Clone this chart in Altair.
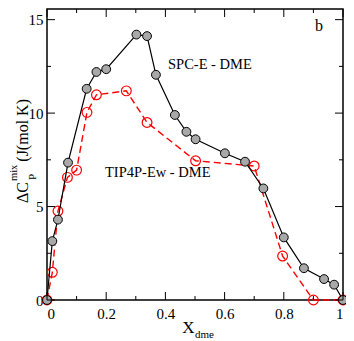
import altair as alt
import pandas as pd

# SPC-E - DME series
spc_x = [0, 0.018, 0.037, 0.071, 0.134, 0.167, 0.2, 0.302, 0.338, 0.368, 0.432, 0.471, 0.502, 0.601, 0.669, 0.731, 0.8, 0.868, 0.936, 0.97, 1.0]
spc_y = [0, 3.15, 4.3, 7.35, 11.3, 12.2, 12.35, 14.2, 14.12, 12.05, 9.9, 9.0, 8.6, 7.85, 7.4, 5.97, 3.35, 1.7, 1.12, 0.82, 0]

# TIP4P-Ew - DME series
tip_x = [0, 0.018, 0.037, 0.069, 0.1, 0.135, 0.167, 0.268, 0.338, 0.502, 0.70, 0.796, 0.9, 1.0]
tip_y = [0, 1.48, 4.76, 6.56, 6.95, 10.04, 10.98, 11.19, 9.5, 7.45, 7.17, 2.35, 0, 0]

x_major = [0, 0.2, 0.4, 0.6, 0.8, 1.0]
x_minor = [0.1, 0.3, 0.5, 0.7, 0.9]
y_major = [0, 5, 10, 15]
y_minor = [2.5, 7.5, 12.5]

W, H = 296, 291
FONT = "Liberation Serif, Times New Roman, serif"

xs = alt.Scale(domain=[0, 1], nice=False, zero=False)
ys = alt.Scale(domain=[0, 15.57], nice=False, zero=False)
xaxis = alt.Axis(values=x_major, ticks=False, domain=False, grid=False, format="~g",
                 labelFont=FONT, labelFontSize=15, labelColor="black", labelPadding=6,
                 title=None, labelOverlap=False)
yaxis = alt.Axis(values=y_major, ticks=False, domain=False, grid=False, format="~g",
                 labelFont=FONT, labelFontSize=15, labelColor="black", labelPadding=4,
                 title=None, labelOverlap=False)

spc = pd.DataFrame({"x": spc_x, "y": spc_y})
tip = pd.DataFrame({"x": tip_x, "y": tip_y})

X = alt.X("x:Q", scale=xs, axis=xaxis)
Y = alt.Y("y:Q", scale=ys, axis=yaxis)

tip_line = alt.Chart(tip).mark_line(color="#ff0000", strokeWidth=1.4, strokeDash=[7, 4]).encode(x=X, y=Y)
tip_pts = alt.Chart(tip).mark_point(shape="circle", size=95, filled=False, color="#ff0000",
                                     strokeWidth=1.2, opacity=1).encode(x=X, y=Y)
spc_line = alt.Chart(spc).mark_line(color="black", strokeWidth=1.2).encode(x=X, y=Y)
spc_pts = alt.Chart(spc).mark_point(shape="circle", size=78, filled=True, fill="#a8a8a8",
                                     stroke="black", strokeWidth=1, opacity=1).encode(x=X, y=Y)

def xticks(vals, length):
    d = pd.DataFrame({"x": vals})
    bot = alt.Chart(d).mark_rule(color="black", strokeWidth=1).encode(
        x=X, y=alt.value(H), y2=alt.value(H - length))
    top = alt.Chart(d).mark_rule(color="black", strokeWidth=1).encode(
        x=X, y=alt.value(0), y2=alt.value(length))
    return [bot, top]

def yticks(vals, length):
    d = pd.DataFrame({"y": vals})
    left = alt.Chart(d).mark_rule(color="black", strokeWidth=1).encode(
        y=Y, x=alt.value(0), x2=alt.value(length))
    right = alt.Chart(d).mark_rule(color="black", strokeWidth=1).encode(
        y=Y, x=alt.value(W), x2=alt.value(W - length))
    return [left, right]

one = pd.DataFrame({"a": [0]})

def txt(s, x, y, size, angle=0, baseline="alphabetic"):
    return alt.Chart(one).mark_text(text=s, font=FONT, fontSize=size, color="black",
                                    align="left", baseline=baseline, angle=angle).encode(
        x=alt.value(x), y=alt.value(y))

texts = [
    txt("SPC-E - DME", 121, 68.5 - 9, 14.5),
    txt("TIP4P-Ew - DME", 58, 176.7 - 9, 14.5),
    txt("b", 268, 30.7 - 9, 16),
    txt("X", 135.3, 323.7, 17),
    txt("dme", 148, 328.7, 11),
    txt("ΔC", -19, 194, 16, angle=270),
    txt("P", -11, 171, 11, angle=270),
    txt("mix", -30, 172, 10.5, angle=270),
    txt("(J(mol K)", -19, 152.7, 16, angle=270),
]

layers = ([tip_line, tip_pts, spc_line, spc_pts]
          + xticks(x_major, 8) + xticks(x_minor, 4)
          + yticks(y_major, 8) + yticks(y_minor, 4)
          + texts)

chart = alt.layer(*layers).properties(
    width=W, height=H,
    autosize=alt.AutoSizeParams(type="none"),
    padding={"left": 39, "top": 1, "right": 3, "bottom": 41},
    background="white",
).configure_view(stroke="black", strokeWidth=1.5)

chart.save("out.html", embed_options={"renderer": "svg", "actions": False})
